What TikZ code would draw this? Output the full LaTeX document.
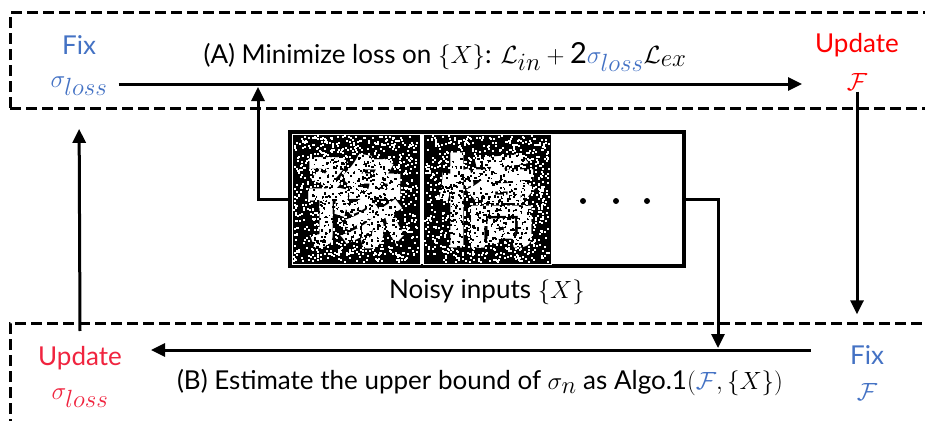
\documentclass[tikz,border=0pt]{standalone}
\usepackage{fontspec}
\setmainfont{Lato}
\newfontfamily\cjk{Noto Sans CJK SC}
\usepackage{xcolor}
\DeclareMathSizes{26}{31}{23}{18}
\definecolor{FixBlue}{HTML}{4472C4}
\definecolor{UpdRed}{HTML}{FF0000}
\definecolor{UpdRose}{HTML}{F0243F}
\usetikzlibrary{arrows.meta,positioning}
\tikzset{
  steplabel/.style={
    font=\fontsize{26}{30}\selectfont,
    inner sep=1pt,
    align=center
  },
  phasebox/.style={
    draw=black,
    line width=3pt,
    dash pattern=on 11pt off 5pt
  },
  flow/.style={
    draw=black,
    line width=3pt,
    -{Triangle[length=14pt,width=13pt]}
  },
  inputbox/.style={
    draw=black,
    line width=3.5pt,
    minimum width=394pt,
    minimum height=134pt,
    inner sep=0pt
  }
}
% one noisy glyph patch: x0, y0, glyph
\newcommand{\noisypatch}[3]{%
  \fill[black] (#1,#2) rectangle ++(128,130);
  \node[text=white, font=\cjk\bfseries\fontsize{100}{100}\selectfont, inner sep=0pt] at (#1+64,#2+67) {#3};
  \foreach \k in {1,...,900}{
    \pgfmathsetmacro\px{#1+1+124*rnd}
    \pgfmathsetmacro\py{#2+1+126*rnd}
    \fill[black] (\px,\py) rectangle ++(2.2,2.2);
  }
  \foreach \k in {1,...,1000}{
    \pgfmathsetmacro\px{#1+1+124*rnd}
    \pgfmathsetmacro\py{#2+1+126*rnd}
    \fill[white] (\px,\py) rectangle ++(2,2);
  }
  \draw[white, line width=1pt] (#1,#2) rectangle ++(128,130);
}

\begin{document}
\begin{tikzpicture}[x=1pt,y=-1pt]
  \useasboundingbox (0,0) rectangle (925,420);
  \pgfmathsetseed{7}
  % dashed phase frames
  \draw[phasebox] (10,108) -- (10,13) -- (940,13);
  \draw[phasebox] (10,108) -- (940,108);
  \draw[phasebox] (10,430) -- (10,323) -- (940,323);

  % phase (A)
  \node[steplabel, text=FixBlue] (fixA) at (79,45) {Fix};
  \node[steplabel, text=FixBlue] (sigA) at (79,86) {$\sigma_{loss}$};
  \node[steplabel, text=UpdRed] (updA) at (857,45) {Update};
  \node[steplabel, text=UpdRed] (updF) at (857,82) {$\mathcal{F}$};
  \node[steplabel] (lossA) at (445,57) {(A) Minimize loss on $\{X\}$: $\mathcal{L}_{in}+\hbox{\fontsize{29}{30}\selectfont 2}{\color{FixBlue}\sigma_{loss}}\mathcal{L}_{ex}$};

  % phase (B)
  \node[steplabel, text=FixBlue] (fixB) at (867,355) {Fix};
  \node[steplabel, text=FixBlue] (fixF) at (867,392) {$\mathcal{F}$};
  \node[steplabel, text=UpdRose] (updB) at (80,358) {Update};
  \node[steplabel, text=UpdRose] (sigB) at (80,398) {$\sigma_{loss}$};
  \node[steplabel] (boundB) at (480,383) {(B) Estimate the upper bound of $\sigma_n$ as Algo.1$(${\color{FixBlue}$\mathcal{F}$}$,\{X\})$};

  % noisy inputs
  \node[inputbox] (inputs) at (487,199) {};
  \noisypatch{292}{134}{豫}
  \noisypatch{423}{134}{憍}
  \foreach \dx in {583,616,647}{\fill (\dx,201) circle (3);}
  \node[steplabel, below=11pt of inputs] (noisylbl) {Noisy inputs $\{X\}$};

  \coordinate (joinA) at (258,87);
  \coordinate (joinB) at (718,348);

  % connectors
  \draw[flow, shorten <=10pt, shorten >=12pt] ([yshift=2pt]sigA.east) -- ([yshift=2pt]sigA.east -| updA.west);
  \draw[flow] (inputs.west) -| (joinA);
  \draw[flow, shorten >=30pt] (updF.south) -- (updF.south |- fixB.north);
  \draw[flow, shorten <=38pt, shorten >=28pt] ([yshift=5pt]fixB.west) -- ([yshift=5pt]fixB.west -| updB.east);
  \draw[flow] (inputs.east) -| (joinB);
  \draw[flow, shorten >=32pt] ([yshift=14pt]updB.north) -- (sigA.south);
\end{tikzpicture}
\end{document}
